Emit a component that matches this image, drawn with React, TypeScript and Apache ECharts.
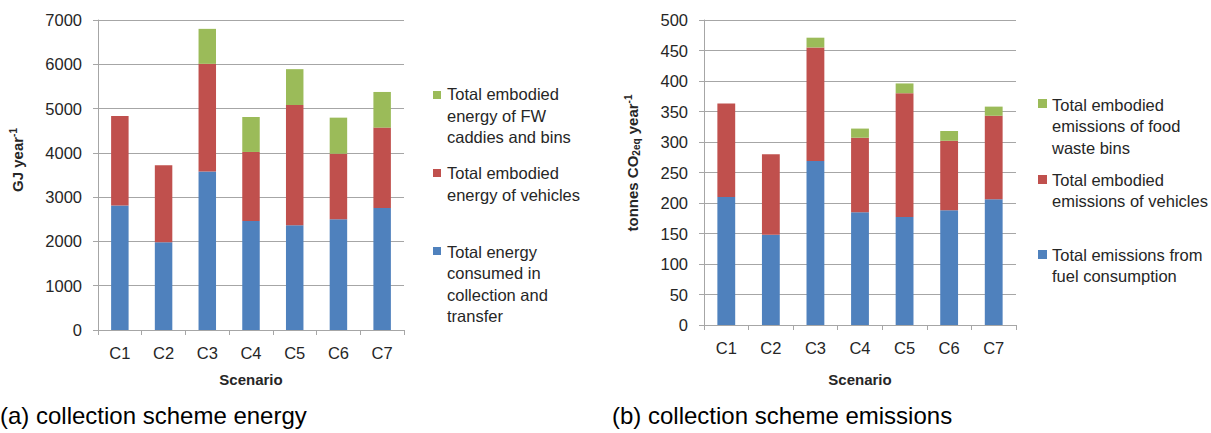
import React, { useEffect, useRef } from "react";
import * as echarts from "echarts";

const scenarios = ["C1", "C2", "C3", "C4", "C5", "C6", "C7"];

// (a) energy, GJ/year (segment values)
const energyCollection = [2810, 1980, 3580, 2460, 2365, 2500, 2755];
const energyVehicles = [2020, 1740, 2430, 1560, 2715, 1480, 1815];
const energyBins = [0, 0, 790, 790, 810, 815, 805];

// (b) emissions, tonnes CO2eq/year (segment values)
const emissionsFuel = [210, 148, 269, 185, 177, 188, 206];
const emissionsVehicles = [153, 132, 186, 122, 203, 114, 137];
const emissionsBins = [0, 0, 16, 15, 16, 16, 15];

const energyNames = [
  "Total energy consumed in collection and transfer",
  "Total embodied energy of vehicles",
  "Total embodied energy of FW caddies and bins",
];
const energyLegendText = [
  "Total energy\nconsumed in\ncollection and\ntransfer",
  "Total embodied\nenergy of vehicles",
  "Total embodied\nenergy of FW\ncaddies and bins",
];
const emissionNames = [
  "Total emissions from fuel consumption",
  "Total embodied emissions of vehicles",
  "Total embodied emissions of food waste bins",
];
const emissionLegendText = [
  "Total emissions from\nfuel consumption",
  "Total embodied\nemissions of vehicles",
  "Total embodied\nemissions of food\nwaste bins",
];

const captions = ["(a) collection scheme energy", "(b) collection scheme emissions"];

const COLORS = ["#4F81BD", "#C0504D", "#9BBB59"];
const FONT = "'Liberation Sans', Arial, sans-serif";
const TXT = "#262626";
const GRID = "#a6a6a6";

export default function App() {
  const ref = useRef<HTMLDivElement>(null);

  useEffect(() => {
    if (!ref.current) return;
    const chart = echarts.init(ref.current, undefined, { renderer: "svg" });

    const nameRich = {
      b: { fontFamily: FONT, fontWeight: "bold", fontSize: 15, color: TXT, lineHeight: 18 },
      sup: { fontFamily: FONT, fontWeight: "bold", fontSize: 10, color: TXT, verticalAlign: "top", lineHeight: 10 },
      sub: { fontFamily: FONT, fontWeight: "bold", fontSize: 10, color: TXT, verticalAlign: "bottom", lineHeight: 10 },
    };

    const xAxisBase = (gridIndex: number, gap: number) => ({
      type: "category",
      gridIndex,
      data: scenarios,
      name: "Scenario",
      nameLocation: "middle",
      nameGap: gap,
      nameTextStyle: { fontFamily: FONT, fontWeight: "bold", fontSize: 15, color: TXT },
      axisLine: { show: true, lineStyle: { color: GRID, width: 1 } },
      axisTick: { show: true, length: 5, alignWithLabel: false, lineStyle: { color: GRID } },
      axisLabel: { fontFamily: FONT, fontSize: 16.5, color: TXT, margin: 14, interval: 0 },
      splitLine: { show: false },
    });

    const yAxisBase = (gridIndex: number, max: number, interval: number, name: string, gap: number, pad: number[]) => ({
      type: "value",
      gridIndex,
      min: 0,
      max,
      interval,
      name,
      nameLocation: "middle",
      nameGap: gap,
      nameRotate: 90,
      nameTextStyle: { fontFamily: FONT, fontWeight: "bold", fontSize: 15, color: TXT, rich: nameRich, padding: pad },
      axisLine: { show: true, lineStyle: { color: GRID, width: 1 } },
      axisTick: { show: true, length: 5, lineStyle: { color: GRID } },
      axisLabel: { fontFamily: FONT, fontSize: 16.5, color: TXT, margin: 16, formatter: (v: number) => String(v) },
      splitLine: { show: true, lineStyle: { color: GRID, width: 1 } },
    });

    const bar = (name: string, data: number[], idx: number, color: string, stack: string) => ({
      type: "bar",
      name,
      data,
      stack,
      xAxisIndex: idx,
      yAxisIndex: idx,
      barWidth: "40%",
      itemStyle: { color },
    });

    const legendGraphic = (texts: string[], x: number, sqX: number, sqSize: number, sqYs: number[], textYs: number[]) => {
      const els: any[] = [];
      [2, 1, 0].forEach((si, k) => {
        els.push({
          type: "rect",
          shape: { x: sqX, y: sqYs[k], width: sqSize, height: sqSize },
          style: { fill: COLORS[si] },
        });
        els.push({
          type: "text",
          x,
          y: textYs[k],
          style: {
            text: texts[si],
            fontFamily: FONT,
            fontSize: 16.5,
            lineHeight: 21.5,
            fill: TXT,
            align: "left",
            verticalAlign: "top",
          },
        });
      });
      return els;
    };

    const option: any = {
      animation: false,
      backgroundColor: "#ffffff",
      grid: [
        { left: 98, top: 20, width: 306, height: 310, containLabel: false },
        { left: 704, top: 20, width: 312, height: 305, containLabel: false },
      ],
      xAxis: [xAxisBase(0, 42), xAxisBase(1, 47)],
      yAxis: [
        yAxisBase(0, 7000, 1000, "{b|GJ year}{sup|-1}", 72, [0, 0, 0, 30]),
        yAxisBase(1, 500, 50, "{b|tonnes CO}{sub|2eq}{b| year}{sup|-1}", 63, [0, 0, 0, 19]),
      ],
      series: [
        bar(energyNames[0], energyCollection, 0, COLORS[0], "energy"),
        bar(energyNames[1], energyVehicles, 0, COLORS[1], "energy"),
        bar(energyNames[2], energyBins, 0, COLORS[2], "energy"),
        bar(emissionNames[0], emissionsFuel, 1, COLORS[0], "emissions"),
        bar(emissionNames[1], emissionsVehicles, 1, COLORS[1], "emissions"),
        bar(emissionNames[2], emissionsBins, 1, COLORS[2], "emissions"),
      ],
      graphic: [
        ...legendGraphic(energyLegendText, 447, 433, 8, [91, 169, 247], [83.5, 162.5, 241]),
        ...legendGraphic(emissionLegendText, 1052, 1038, 9, [99, 175, 250], [94, 169, 244]),
        {
          type: "text",
          x: 0,
          y: 415,
          style: { text: captions[0], fontFamily: FONT, fontSize: 24, fill: "#000", align: "left", verticalAlign: "middle" },
        },
        {
          type: "text",
          x: 612,
          y: 415,
          style: { text: captions[1], fontFamily: FONT, fontSize: 24, fill: "#000", align: "left", verticalAlign: "middle" },
        },
      ],
    };

    chart.setOption(option);
    return () => chart.dispose();
  }, []);

  return (
    <div
      ref={ref}
      style={{ position: "absolute", left: 0, top: 0, width: 1211, height: 433, background: "#fff" }}
    />
  );
}
